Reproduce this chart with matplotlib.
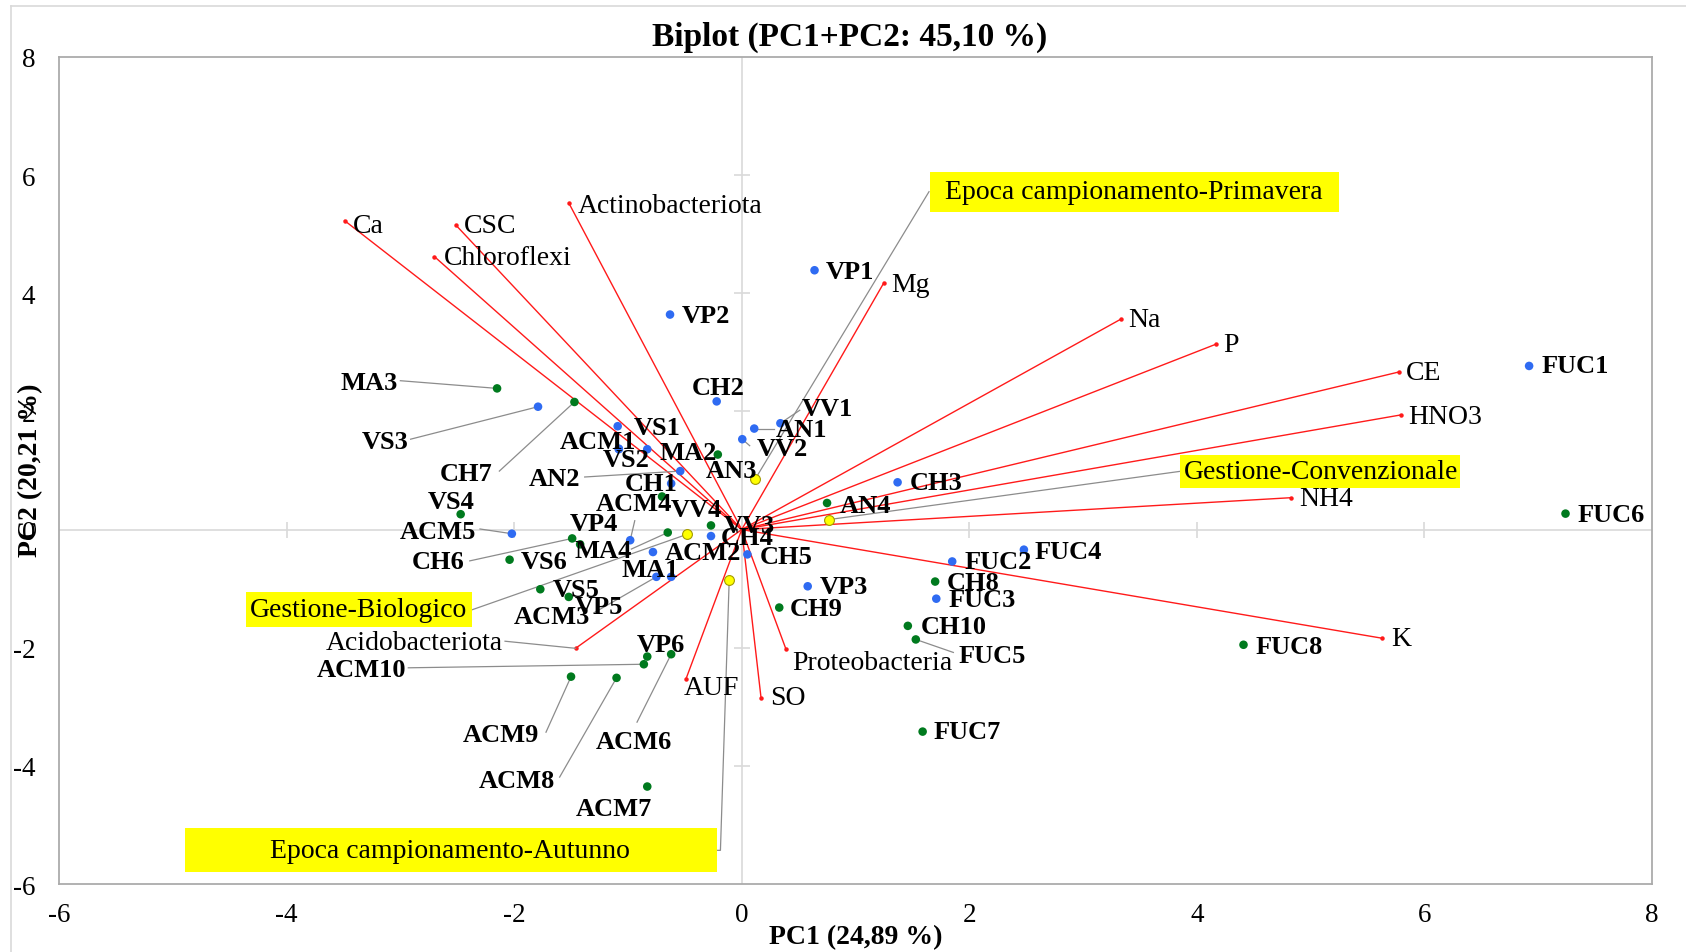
import matplotlib
matplotlib.use('Agg')
import matplotlib.pyplot as plt
from matplotlib.patches import Rectangle
from matplotlib.lines import Line2D
import numpy as np

plt.rcParams['font.family'] = ['Liberation Serif', 'DejaVu Serif']
plt.rcParams['axes.unicode_minus'] = False

TITLE = 'Biplot (PC1+PC2: 45,10 %)'
XLABEL = 'PC1 (24,89 %)'
YLABEL = 'PC2 (20,21 %)'

# ---------------- data ----------------
obs_names = ['VP1', 'VP2', 'VP3', 'FUC1', 'FUC2', 'FUC3', 'FUC4', 'MA1', 'MA2',
             'VS1', 'VS2', 'VS3', 'CH1', 'CH2', 'CH3', 'CH4', 'CH5', 'VV1', 'VV2',
             'AN1', 'AN2', 'ACM1', 'ACM2', 'ACM3', 'ACM4', 'ACM5',
             'VP4', 'VP5', 'VP6', 'FUC5', 'FUC6', 'FUC7', 'FUC8', 'MA3', 'MA4',
             'VS4', 'VS5', 'VS6', 'CH6', 'CH7', 'CH8', 'CH9', 'CH10', 'VV3', 'VV4',
             'AN3', 'AN4', 'ACM6', 'ACM7', 'ACM8', 'ACM9', 'ACM10']
obs_x = [0.64, -0.63, 0.58, 6.92, 1.85, 1.71, 2.48, -0.62, -0.83,
         -1.09, -1.08, -1.79, -0.62, -0.22, 1.37, -0.27, 0.05, 0.34, 0.005,
         0.11, -0.54, -1.08, -0.78, -0.75, -0.98, -2.02,
         -1.42, -1.52, -0.83, 1.53, 7.24, 1.59, 4.41, -2.15, -0.65,
         -2.47, -1.77, -2.04, -1.49, -1.47, 1.70, 0.33, 1.46, -0.27, -0.70,
         -0.21, 0.75, -0.62, -0.83, -1.10, -1.50, -0.86]
obs_y = [4.39, 3.64, -0.96, 2.77, -0.54, -1.17, -0.34, -0.80, 1.36,
         1.75, 1.36, 2.08, 0.78, 2.17, 0.80, -0.11, -0.42, 1.80, 1.53,
         1.71, 0.99, 1.37, -0.38, -0.80, -0.18, -0.07,
         -0.25, -1.14, -2.15, -1.86, 0.27, -3.42, -1.95, 2.39, -0.05,
         0.26, -1.01, -0.51, -0.15, 2.16, -0.88, -1.32, -1.63, 0.07, 0.56,
         1.27, 0.45, -2.11, -4.35, -2.51, -2.49, -2.28]
obs_season = ['Primavera'] * 26 + ['Autunno'] * 26

var_names = ['Ca', 'CSC', 'Chloroflexi', 'Actinobacteriota', 'Mg', 'Na', 'P', 'CE',
             'HNO3', 'NH4', 'K', 'Proteobacteria', 'SO', 'AUF', 'Acidobacteriota']
var_x = [-3.49, -2.51, -2.70, -1.52, 1.25, 3.33, 4.17, 5.78,
         5.79, 4.83, 5.63, 0.39, 0.17, -0.49, -1.46]
var_y = [5.23, 5.15, 4.62, 5.53, 4.18, 3.56, 3.14, 2.67,
         1.94, 0.54, -1.84, -2.03, -2.85, -2.53, -2.01]

cent_names = ['Epoca campionamento-Primavera', 'Gestione-Convenzionale',
              'Gestione-Biologico', 'Epoca campionamento-Autunno']
cent_x = [0.12, 0.77, -0.48, -0.11]
cent_y = [0.86, 0.17, -0.08, -0.86]

# ---------------- layout (label placement) ----------------
# name: (label x, label y, ha, leader start or None)
obs_label = {
    'VP1': (0.74, 4.37, 'left', None), 'VP2': (-0.53, 3.63, 'left', None),
    'VP3': (0.69, -0.97, 'left', None), 'FUC1': (7.03, 2.77, 'left', None),
    'FUC2': (1.96, -0.54, 'left', None), 'FUC3': (1.82, -1.19, 'left', None),
    'FUC4': (2.57, -0.37, 'left', None), 'MA1': (-1.06, -0.68, 'left', None),
    'MA2': (-0.72, 1.30, 'left', None), 'VS1': (-0.95, 1.72, 'left', None),
    'VS2': (-1.22, 1.19, 'left', None), 'VS3': (-2.93, 1.49, 'right', (-2.91, 1.53)),
    'CH1': (-1.03, 0.78, 'left', None), 'CH2': (-0.44, 2.40, 'left', None),
    'CH3': (1.48, 0.79, 'left', None), 'CH4': (-0.18, -0.14, 'left', None),
    'CH5': (0.16, -0.45, 'left', None), 'VV1': (0.53, 2.05, 'left', (0.51, 2.02)),
    'VV2': (0.13, 1.37, 'left', (0.07, 1.42)), 'AN1': (0.30, 1.69, 'left', (0.28, 1.71)),
    'AN2': (-1.42, 0.86, 'right', (-1.38, 0.89)), 'ACM1': (-0.93, 1.49, 'right', None),
    'ACM2': (-0.68, -0.39, 'left', None), 'ACM3': (-2.00, -1.47, 'left', (-1.30, -1.41)),
    'ACM4': (-1.28, 0.44, 'left', (-0.94, 0.15)), 'ACM5': (-2.33, -0.04, 'right', (-2.30, 0.01)),
    'VP4': (-1.51, 0.10, 'left', None), 'VP5': (-1.47, -1.31, 'left', None),
    'VP6': (-0.92, -1.95, 'left', None), 'FUC5': (1.91, -2.13, 'left', (1.86, -2.08)),
    'FUC6': (7.35, 0.25, 'left', None), 'FUC7': (1.69, -3.42, 'left', None),
    'FUC8': (4.52, -1.98, 'left', None), 'MA3': (-3.02, 2.49, 'right', (-3.00, 2.52)),
    'MA4': (-1.47, -0.35, 'left', (-0.97, -0.33)), 'VS4': (-2.76, 0.47, 'left', None),
    'VS5': (-1.66, -1.02, 'left', None), 'VS6': (-1.94, -0.54, 'left', None),
    'CH6': (-2.44, -0.54, 'right', (-2.39, -0.53)), 'CH7': (-2.19, 0.95, 'right', (-2.13, 0.99)),
    'CH8': (1.80, -0.90, 'left', None), 'CH9': (0.42, -1.33, 'left', None),
    'CH10': (1.57, -1.64, 'left', None), 'VV3': (-0.16, 0.07, 'left', None),
    'VV4': (-0.62, 0.34, 'left', None), 'AN3': (-0.32, 1.00, 'left', None),
    'AN4': (0.86, 0.41, 'left', None), 'ACM6': (-1.28, -3.59, 'left', (-0.92, -3.26)),
    'ACM7': (-1.46, -4.73, 'left', None), 'ACM8': (-1.64, -4.25, 'right', (-1.60, -4.19)),
    'ACM9': (-1.78, -3.47, 'right', (-1.72, -3.43)), 'ACM10': (-2.95, -2.37, 'right', (-2.93, -2.34)),
}
var_label = {
    'Ca': (-3.42, 5.14, 'left', None), 'CSC': (-2.445, 5.14, 'left', None),
    'Chloroflexi': (-2.62, 4.60, 'left', None), 'Actinobacteriota': (-1.44, 5.48, 'left', None),
    'Mg': (1.316, 4.15, 'left', None), 'Na': (3.395, 3.55, 'left', None),
    'P': (4.235, 3.13, 'left', None), 'CE': (5.84, 2.66, 'left', None),
    'HNO3': (5.86, 1.92, 'left', None), 'NH4': (4.90, 0.53, 'left', None),
    'K': (5.71, -1.85, 'left', None), 'Proteobacteria': (0.44, -2.25, 'left', None),
    'SO': (0.25, -2.85, 'left', None), 'AUF': (-0.51, -2.68, 'left', None),
    'Acidobacteriota': (-2.10, -1.91, 'right', (-2.08, -1.89)),
}
# name: (x0, y0, x1, y1, text x, ha, leader path from box)
cent_box = {
    'Epoca campionamento-Primavera': (1.656, 5.377, 5.25, 6.054, 1.79, 'left', [(1.646, 5.72)]),
    'Gestione-Convenzionale': (3.85, 0.699, 6.315, 1.27, 3.89, 'left', [(3.85, 0.985)]),
    'Gestione-Biologico': (-4.358, -1.644, -2.373, -1.061, -4.32, 'left', [(-2.373, -1.36)]),
    'Epoca campionamento-Autunno': (-4.896, -5.802, -0.219, -5.057, -2.56, 'center',
                                    [(-0.219, -5.43), (-0.187, -5.43)]),
}

season_color = {'Primavera': '#2F6BF2', 'Autunno': '#007A1E'}
RED = '#FF1A1A'
LEADER = '#8C8C8C'

# ---------------- figure ----------------
fig = plt.figure(figsize=(16.86, 9.53), dpi=100)
ax = fig.add_axes([0.03499, 0.07135, 0.94484, 0.86779])
ax.set_xlim(-6, 8)
ax.set_ylim(-6, 8)
for s in ax.spines.values():
    s.set_color('#ABABAB')
    s.set_linewidth(1.3)
ax.set_xticks(np.arange(-6, 9, 2))
ax.set_yticks(np.arange(-6, 9, 2))
ax.tick_params(axis='both', length=0, labelsize=19.5)
ax.tick_params(axis='x', pad=13)
ax.tick_params(axis='y', pad=17)

# zero axes with crossing ticks
ax.axhline(0, color='#D9D9D9', lw=1.2, zorder=1)
ax.axvline(0, color='#D9D9D9', lw=1.2, zorder=1)
tk = np.array([-4, -2, 2, 4, 6])
ax.plot(tk, np.zeros_like(tk), ls='none', marker='|', ms=11, mew=1.2, color='#D9D9D9', zorder=1)
ax.plot(np.zeros_like(tk), tk, ls='none', marker='_', ms=11, mew=1.2, color='#D9D9D9', zorder=1)

# variable vectors
for n, vx, vy in zip(var_names, var_x, var_y):
    ax.plot([0, vx], [0, vy], color=RED, lw=1.0, zorder=2)
    ax.plot([vx], [vy], marker='o', ms=2.2, color=RED, zorder=2)
    lx, ly, ha, ld = var_label[n]
    if ld is not None:
        ax.plot([ld[0], vx], [ld[1], vy], color=LEADER, lw=0.9, zorder=2)
    ax.text(lx, ly, n, ha=ha, va='center', fontsize=20, zorder=6)

# observation leaders
for n, ox, oy in zip(obs_names, obs_x, obs_y):
    lx, ly, ha, ld = obs_label[n]
    if ld is not None:
        ax.plot([ld[0], ox], [ld[1], oy], color=LEADER, lw=0.9, zorder=3)

# centroid leaders and boxes
for n, cx, cy in zip(cent_names, cent_x, cent_y):
    x0, y0, x1, y1, tx, ha, path = cent_box[n]
    pts = path + [(cx, cy)]
    ax.plot([p[0] for p in pts], [p[1] for p in pts], color=LEADER, lw=0.9, zorder=3)
    ax.add_patch(Rectangle((x0, y0), x1 - x0, y1 - y0, facecolor='#FFFF00',
                           edgecolor='none', zorder=5))
    ax.text(tx, (y0 + y1) / 2, n, ha=ha, va='center', fontsize=20, zorder=6)

# points
for season in ['Primavera', 'Autunno']:
    xs = [x for x, s in zip(obs_x, obs_season) if s == season]
    ys = [y for y, s in zip(obs_y, obs_season) if s == season]
    ax.scatter(xs, ys, s=38, color=season_color[season], edgecolors='none', zorder=4)
ax.scatter(cent_x, cent_y, s=50, color='#FFFF00', edgecolors='#A39A00', linewidths=0.8, zorder=4)

# observation labels
for n in obs_names:
    lx, ly, ha, ld = obs_label[n]
    ax.text(lx, ly, n, ha=ha, va='center', fontsize=19, fontweight='bold', zorder=6)

# titles
fig.text(850 / 1686, 1 - 37 / 953, TITLE, ha='center', va='center', fontsize=24, fontweight='bold')
fig.text(856 / 1686, 1 - 938 / 953, XLABEL, ha='center', va='center', fontsize=20, fontweight='bold')
fig.text(31 / 1686, 1 - 470 / 953, YLABEL, ha='center', va='center', rotation=90,
         fontsize=20, fontweight='bold')

# outer frame
fig.add_artist(Line2D([11 / 1686, 1], [1 - 7 / 953, 1 - 7 / 953], transform=fig.transFigure,
                      color='#D9D9D9', lw=1.2))
fig.add_artist(Line2D([11 / 1686, 11 / 1686], [0, 1 - 7 / 953], transform=fig.transFigure,
                      color='#D9D9D9', lw=1.2))

fig.savefig('out.png', dpi=100)
